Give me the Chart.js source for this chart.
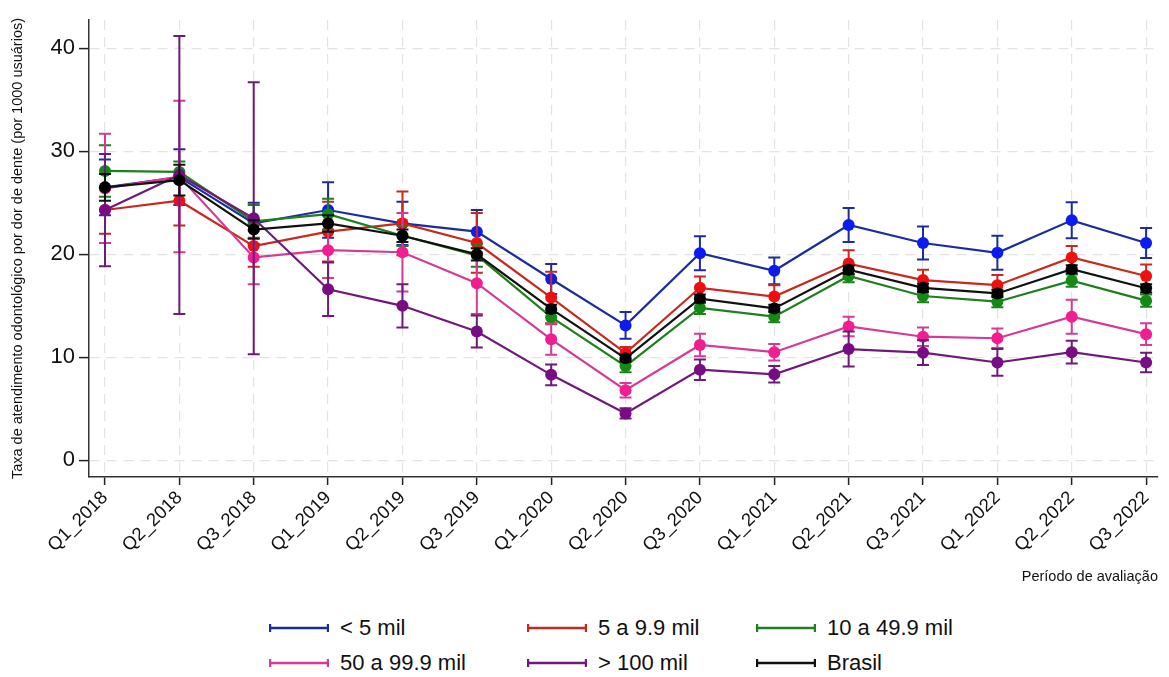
<!DOCTYPE html>
<html>
<head>
<meta charset="utf-8">
<script src="https://cdn.jsdelivr.net/npm/chart.js@4.4.0/dist/chart.umd.min.js"></script>
<style>
  body { margin: 0; background: #fff; font-family: "Liberation Sans", Arial, sans-serif; }
  #wrap { position: relative; width: 1169px; height: 677px; overflow: hidden; }
  #grafico { position: absolute; left: 0; top: 0; }
  .leg { position: absolute; display: flex; align-items: center; font-size: 22px; color: #111; white-space: nowrap; height: 26px; }
  .leg svg { margin-right: 11px; }
</style>
</head>
<body>
<div id="wrap">
  <canvas id="grafico" width="1169" height="600"></canvas>
  <div id="legenda"></div>
</div>
<script>
const periodos = ["Q1_2018", "Q2_2018", "Q3_2018", "Q1_2019", "Q2_2019", "Q3_2019", "Q1_2020", "Q2_2020",
  "Q3_2020", "Q1_2021", "Q2_2021", "Q3_2021", "Q1_2022", "Q2_2022", "Q3_2022"];
const yTicks = [0, 10, 20, 30, 40];

// taxa por 1000 usuarios e meia-amplitude do IC
const menos5 = [26.5, 27.5, 23.0, 24.3, 23.0, 22.2, 17.6, 13.1, 20.1, 18.4, 22.85, 21.1, 20.15, 23.3, 21.1];
const menos5Ic = [2.7, 2.7, 2.0, 2.7, 2.1, 2.1, 1.45, 1.3, 1.65, 1.3, 1.65, 1.6, 1.65, 1.75, 1.45];
const de5a9 = [24.3, 25.2, 20.8, 22.2, 23.0, 21.1, 15.8, 10.4, 16.75, 15.9, 19.1, 17.5, 17.0, 19.7, 17.9];
const de5a9Ic = [2.3, 2.4, 2.0, 2.9, 3.1, 2.9, 2.5, 0.6, 1.1, 1.1, 1.3, 1.0, 1.0, 1.1, 1.1];
const de10a49 = [28.1, 28.0, 23.2, 23.9, 21.8, 19.9, 13.9, 9.15, 14.8, 13.95, 17.9, 15.95, 15.4, 17.45, 15.5];
const de10a49Ic = [2.5, 1.0, 1.6, 1.5, 1.0, 1.1, 0.7, 0.6, 0.6, 0.55, 0.6, 0.6, 0.55, 0.6, 0.6];
const de50a99 = [26.4, 27.55, 19.7, 20.4, 20.2, 17.2, 11.75, 6.8, 11.2, 10.5, 13.0, 12.0, 11.85, 13.95, 12.25];
const de50a99Ic = [5.3, 7.35, 2.6, 2.7, 3.8, 3.0, 1.5, 0.7, 1.1, 0.8, 0.95, 0.9, 0.95, 1.65, 1.05];
const mais100 = [24.3, 27.7, 23.5, 16.6, 15.0, 12.5, 8.3, 4.55, 8.8, 8.35, 10.8, 10.45, 9.5, 10.5, 9.5];
const mais100Ic = [5.45, 13.5, 13.2, 2.6, 2.1, 1.55, 1.0, 0.5, 1.0, 0.8, 1.7, 1.2, 1.3, 1.1, 0.95];
const brasil = [26.5, 27.2, 22.4, 23.0, 21.8, 20.0, 14.7, 9.9, 15.7, 14.75, 18.5, 16.75, 16.2, 18.55, 16.7];
const brasilIc = [1.3, 1.5, 0.9, 0.8, 0.6, 0.6, 0.4, 0.3, 0.4, 0.35, 0.4, 0.4, 0.35, 0.4, 0.4];

const series = [
  { nome: "< 5 mil", valores: menos5, ic: menos5Ic, linha: "#1c2c9e", ponto: "#0a1cf0" },
  { nome: "5 a 9.9 mil", valores: de5a9, ic: de5a9Ic, linha: "#c8281e", ponto: "#ee1010" },
  { nome: "10 a 49.9 mil", valores: de10a49, ic: de10a49Ic, linha: "#1f7f1f", ponto: "#138a13" },
  { nome: "50 a 99.9 mil", valores: de50a99, ic: de50a99Ic, linha: "#d63a96", ponto: "#f01e90" },
  { nome: "> 100 mil", valores: mais100, ic: mais100Ic, linha: "#6e1a78", ponto: "#780c82" },
  { nome: "Brasil", valores: brasil, ic: brasilIc, linha: "#111111", ponto: "#000000" },
];

// barras de erro desenhadas antes de cada serie
const barrasErro = {
  id: "barrasErro",
  beforeDatasetDraw(chart, args) {
    const ds = chart.data.datasets[args.index];
    const ctx = chart.ctx;
    const xs = chart.scales.x, ys = chart.scales.y;
    ctx.save();
    ctx.strokeStyle = ds.borderColor;
    ctx.lineWidth = 2;
    ds.data.forEach((p, i) => {
      const x = xs.getPixelForValue(p.x);
      const y1 = ys.getPixelForValue(p.y - ds.ic[i]);
      const y2 = ys.getPixelForValue(p.y + ds.ic[i]);
      ctx.beginPath();
      ctx.moveTo(x, y1); ctx.lineTo(x, y2);
      ctx.moveTo(x - 6, y1); ctx.lineTo(x + 6, y1);
      ctx.moveTo(x - 6, y2); ctx.lineTo(x + 6, y2);
      ctx.stroke();
    });
    ctx.restore();
  }
};

const gradeX = { color: "#e3e3e3", lineWidth: 1.2, tickColor: "#222", tickLength: 8, tickWidth: 1.5 };
const gradeY = { color: "#e3e3e3", lineWidth: 1.2, tickColor: "#222", tickLength: 10, tickWidth: 1.5 };

const chart = new Chart(document.getElementById("grafico"), {
  type: "line",
  data: {
    datasets: series.map((s, k) => ({
      label: s.nome,
      data: s.valores.map((v, i) => ({ x: i, y: v })),
      ic: s.ic,
      borderColor: s.linha,
      backgroundColor: s.ponto,
      pointBackgroundColor: s.ponto,
      pointBorderColor: s.ponto,
      pointRadius: 6,
      pointBorderWidth: 0,
      borderWidth: 2.2,
      tension: 0,
      order: series.length - k,
    })),
  },
  options: {
    responsive: false,
    animation: false,
    layout: { padding: { top: 20, right: 11, bottom: 10, left: 0 } },
    plugins: { legend: { display: false }, tooltip: { enabled: false } },
    scales: {
      x: {
        type: "linear",
        min: -0.215,
        max: 14.16,
        afterBuildTicks: (s) => { s.ticks = periodos.map((p, i) => ({ value: i })); },
        afterFit: (s) => { s.height = 113; },
        ticks: {
          autoSkip: false, maxRotation: 45, minRotation: 45, padding: 2,
          color: "#111", font: { size: 18.5, family: "Liberation Sans" },
          callback: (v) => periodos[v],
        },
        grid: gradeX,
        border: { color: "#333", width: 1.5, dash: [10, 7] },
        title: {
          display: true, text: "Período de avaliação", align: "end", color: "#111",
          font: { size: 14.5, family: "Liberation Sans" }, padding: { top: 0, bottom: 4 },
        },
      },
      y: {
        min: -1.62,
        max: 42.75,
        afterBuildTicks: (s) => { s.ticks = yTicks.map((v) => ({ value: v })); },
        afterFit: (s) => { s.width = 89; },
        ticks: { color: "#111", padding: 4, font: { size: 22, family: "Liberation Sans" } },
        grid: gradeY,
        border: { color: "#333", width: 1.5, dash: [10, 7] },
        title: {
          display: true, text: "Taxa de atendimento odontológico por dor de dente (por 1000 usuários)",
          color: "#111", font: { size: 14.5, family: "Liberation Sans" }, padding: { top: 9, bottom: 0 },
        },
      },
    },
  },
  plugins: [barrasErro],
});

// legenda em 3 colunas
const legCols = [269, 527, 756];
const legRows = [615, 650];
const legenda = document.getElementById("legenda");
series.forEach((s, k) => {
  const el = document.createElement("div");
  el.className = "leg";
  el.style.left = legCols[k % 3] + "px";
  el.style.top = legRows[Math.floor(k / 3)] + "px";
  el.innerHTML =
    `<svg width="60" height="12"><g stroke="${s.linha}" stroke-width="2.4">` +
    `<line x1="1" y1="6" x2="59" y2="6"/><line x1="1" y1="2" x2="1" y2="10"/><line x1="59" y1="2" x2="59" y2="10"/></g></svg>` +
    `<span>${s.nome}</span>`;
  legenda.appendChild(el);
});
</script>
</body>
</html>
